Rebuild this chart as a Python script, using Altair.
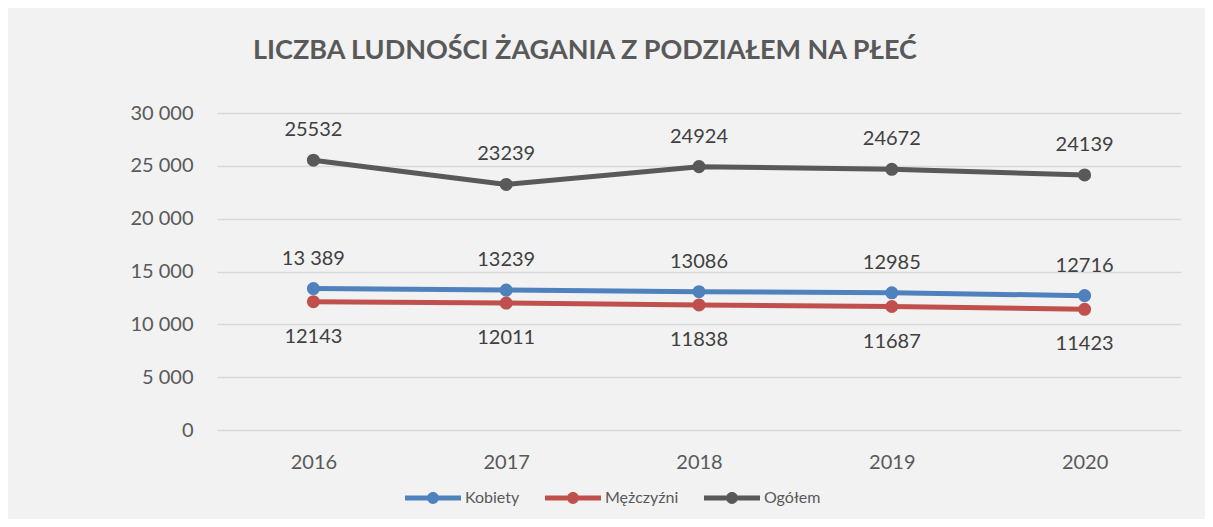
import altair as alt
import pandas as pd

years = ["2016", "2017", "2018", "2019", "2020"]
kobiety = [13389, 13239, 13086, 12985, 12716]
mezczyzni = [12143, 12011, 11838, 11687, 11423]
ogolem = [25532, 23239, 24924, 24672, 24139]
kobiety_labels = ["13 389", "13239", "13086", "12985", "12716"]
mezczyzni_labels = ["12143", "12011", "11838", "11687", "11423"]
ogolem_labels = ["25532", "23239", "24924", "24672", "24139"]

series = ["Kobiety", "Mężczyźni", "Ogółem"]
colors = ["#4f81bd", "#c0504d", "#595959"]

rows = []
for name, vals, labs, pos in [
    ("Kobiety", kobiety, kobiety_labels, "above"),
    ("Mężczyźni", mezczyzni, mezczyzni_labels, "below"),
    ("Ogółem", ogolem, ogolem_labels, "above"),
]:
    for y, v, l in zip(years, vals, labs):
        rows.append({"rok": y, "seria": name, "wartosc": v, "etykieta": l, "pos": pos})
df = pd.DataFrame(rows)

FONT = "Lato"

x = alt.X("rok:N", sort=years, title=None,
          axis=alt.Axis(labelAngle=0, labelFontSize=20, labelColor="#595959",
                        labelFont=FONT, labelPadding=22, domain=False, ticks=False, grid=False))
y = alt.Y("wartosc:Q", title=None,
          scale=alt.Scale(domain=[0, 30000], nice=False),
          axis=alt.Axis(values=[0, 5000, 10000, 15000, 20000, 25000, 30000],
                        labelExpr="datum.value == 0 ? '0' : format(floor(datum.value/1000), 'd') + ' 000'",
                        labelFontSize=20, labelColor="#595959", labelFont=FONT,
                        labelPadding=24, domain=False, ticks=False,
                        grid=True, gridColor="#d9d9d9", gridWidth=1.5))

color_scale = alt.Scale(domain=series, range=colors)

legend_symbol = ("M-1,-0.09L1,-0.09L1,0.09L-1,0.09Z "
                 "M0.21,0A0.21,0.21 0 1,1 -0.21,0A0.21,0.21 0 1,1 0.21,0Z")

legend = alt.Legend(orient="none", direction="horizontal",
                    legendX=188, legendY=357,
                    symbolType=legend_symbol, symbolSize=3136,
                    symbolStrokeWidth=0, symbolOpacity=1,
                    labelFontSize=16, labelFont=FONT, labelColor="#595959",
                    labelOffset=4, columnPadding=25)

base = alt.Chart(df)

lines = base.mark_line(strokeWidth=5).encode(
    x=x, y=y,
    stroke=alt.Stroke("seria:N", scale=color_scale, legend=legend, title=None),
)

points = base.mark_point(filled=True, size=170, opacity=1).encode(
    x=x, y=y,
    fill=alt.Fill("seria:N", scale=color_scale, legend=legend, title=None),
)

text_above = base.transform_filter(alt.datum.pos == "above").mark_text(
    dy=-30, fontSize=20, font=FONT, color="#404040"
).encode(x=x, y=y, text="etykieta:N")

text_below = base.transform_filter(alt.datum.pos == "below").mark_text(
    dy=35, fontSize=20, font=FONT, color="#404040"
).encode(x=x, y=y, text="etykieta:N")

chart = alt.layer(lines, points, text_above, text_below).properties(
    width=964, height=317,
    title=alt.TitleParams("LICZBA LUDNOŚCI ŻAGANIA Z PODZIAŁEM NA PŁEĆ",
                          anchor="start", frame="group", dx=36, offset=38,
                          fontSize=27, font=FONT, fontWeight="bold", color="#595959"),
    autosize=alt.AutoSizeParams(type="none"),
    padding={"left": 209, "top": 105, "right": 24, "bottom": 89},
    background="#f2f2f2",
).configure_view(stroke=None)

chart.save("out.html", embed_options={"renderer": "svg", "actions": False})
